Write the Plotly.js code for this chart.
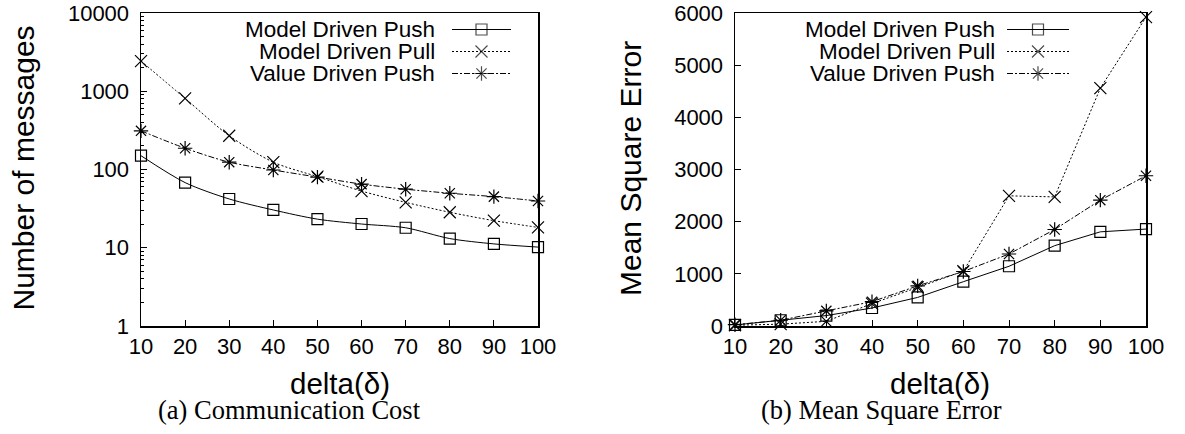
<!DOCTYPE html>
<html>
<head>
<meta charset="utf-8">
<script src="https://cdn.plot.ly/plotly-3.0.1.min.js"></script>
<style>
  html, body { margin: 0; padding: 0; background: #fff; }
  #chart { width: 1185px; height: 434px; }
</style>
</head>
<body>
<div id="chart"></div>
<script>
// delta values on the x axis of both panels
const delta = [10, 20, 30, 40, 50, 60, 70, 80, 90, 100];
const seriesNames = ['Model Driven Push', 'Model Driven Pull', 'Value Driven Push'];

// (a) Communication cost: number of messages (log scale)
const msgModelPush = [150, 68, 42, 30.4, 23.2, 20.1, 18, 13.1, 11.2, 10.2];
const msgModelPull = [2430, 810, 270, 124, 81, 53, 38, 28.4, 22.2, 18.2];
const msgValuePush = [312, 187, 124, 98.5, 80, 65, 56, 49.7, 45, 39.6];

// (b) Mean square error
const mseModelPush = [20, 110, 200, 345, 548, 849, 1145, 1540, 1805, 1858];
const mseModelPull = [15, 35, 90, 430, 740, 1050, 2495, 2475, 4560, 5920];
const mseValuePush = [25, 110, 290, 466, 770, 1045, 1380, 1850, 2412, 2880];

// log-axis tick labels
const logTickVals = [1, 10, 100, 1000, 10000];
const logTickText = ['1', '10', '100', '1000', '10000'];

const W = 1185, H = 434;
const fx = x => x / W;
const fy = y => 1 - y / H;
const FONT = 'Liberation Sans, Arial, Helvetica, sans-serif';
const SERIF = 'Liberation Serif, Times New Roman, serif';

const styles = [
  { symbol: 'square-open',   size: 11, dash: 'solid' },
  { symbol: 'x-thin-open',   size: 12, dash: '2px,2px' },
  { symbol: 'asterisk-open', size: 12, dash: '6px,2px,2px,2px' }
];

function series(xa, ya, ys, i, shape) {
  return {
    x: delta, y: ys, xaxis: xa, yaxis: ya,
    type: 'scatter', mode: 'lines+markers', name: seriesNames[i],
    showlegend: false, cliponaxis: false,
    line: { color: '#000', width: 1, dash: styles[i].dash, shape: shape, smoothing: 0.8 },
    marker: { symbol: styles[i].symbol, size: styles[i].size, color: '#000',
              line: { color: '#000', width: 1.2 } }
  };
}

const traces = [
  series('x', 'y', msgModelPush, 0, 'spline'),
  series('x', 'y', msgModelPull, 1, 'spline'),
  series('x', 'y', msgValuePush, 2, 'spline'),
  series('x2', 'y2', mseModelPush, 0, 'linear'),
  series('x2', 'y2', mseModelPull, 1, 'linear'),
  series('x2', 'y2', mseValuePush, 2, 'linear')
];

// key samples (line with centred marker) drawn on a full-figure pixel overlay
const keyRows = [29.5, 51.5, 73.5];
const keyPanels = [
  { textRight: 437, x0: 452, x1: 511 },
  { textRight: 997, x0: 1007, x1: 1069 }
];
const annotations = [];
keyPanels.forEach(p => {
  seriesNames.forEach((name, i) => {
    const xm = (p.x0 + p.x1) / 2;
    traces.push({
      x: [p.x0, xm, p.x1], y: [keyRows[i], keyRows[i], keyRows[i]],
      xaxis: 'x3', yaxis: 'y3', type: 'scatter', mode: 'lines+markers',
      showlegend: false, hoverinfo: 'skip', cliponaxis: false,
      line: { color: '#000', width: 1, dash: styles[i].dash },
      marker: { symbol: styles[i].symbol, size: [0, styles[i].size, 0], color: '#000',
                line: { color: '#000', width: 1.2 } }
    });
    annotations.push({
      xref: 'paper', yref: 'paper', x: fx(p.textRight), y: fy(keyRows[i]),
      xanchor: 'right', yanchor: 'middle', showarrow: false, text: name,
      font: { family: FONT, size: 22.5, color: '#000' }
    });
  });
});

function label(text, x, y, size, family, angle) {
  annotations.push({
    xref: 'paper', yref: 'paper', x: fx(x), y: fy(y), xanchor: 'center', yanchor: 'middle',
    showarrow: false, text: text, textangle: angle || 0,
    font: { family: family, size: size, color: '#000' }
  });
}
label('Number of messages', 23, 168.5, 30, FONT, -90);
label('Mean Square Error', 630, 168, 30, FONT, -90);
label('delta(δ)', 340, 383, 29.5, FONT);
label('delta(δ)', 940, 383, 29.5, FONT);
label('(a) Communication Cost', 289, 410, 26.5, SERIF);
label('(b) Mean Square Error', 881, 410, 26.5, SERIF);

// minor ticks between decades
const minorVals = [];
for (let d = 1; d < 10000; d *= 10) for (let k = 2; k < 10; k++) minorVals.push(k * d);

const yDomain = [fy(326), fy(13)];
const axisCommon = {
  showline: true, mirror: true, linecolor: '#000', linewidth: 1.5,
  showgrid: false, zeroline: false, ticks: 'inside', ticklen: 6, tickwidth: 1,
  tickcolor: '#000', tickfont: { family: FONT, size: 22, color: '#000' }, fixedrange: true
};

const layout = {
  width: W, height: H, margin: { l: 0, r: 0, t: 0, b: 0 },
  paper_bgcolor: '#fff', plot_bgcolor: 'rgba(0,0,0,0)', showlegend: false,
  xaxis: Object.assign({}, axisCommon, {
    domain: [fx(141), fx(538)], range: [10, 100], tickvals: delta, anchor: 'y', ticklabelstandoff: 0
  }),
  yaxis: Object.assign({}, axisCommon, {
    domain: yDomain, type: 'log', range: [0, 4], tickvals: logTickVals, ticktext: logTickText,
    anchor: 'x', ticklabelstandoff: 6,
    minor: { tickvals: minorVals, ticks: 'inside', ticklen: 3, tickcolor: '#000', tickwidth: 1 }
  }),
  xaxis2: Object.assign({}, axisCommon, {
    domain: [fx(735), fx(1146)], range: [10, 100], tickvals: delta, anchor: 'y2', ticklabelstandoff: 0
  }),
  yaxis2: Object.assign({}, axisCommon, {
    domain: yDomain, range: [0, 6000], dtick: 1000, anchor: 'x2', ticklabelstandoff: 6
  }),
  xaxis3: { domain: [0, 1], range: [0, W], visible: false, fixedrange: true, anchor: 'y3' },
  yaxis3: { domain: [0, 1], range: [H, 0], visible: false, fixedrange: true, anchor: 'x3' },
  annotations: annotations
};

Plotly.newPlot('chart', traces, layout, { displayModeBar: false, staticPlot: true });
</script>
</body>
</html>
